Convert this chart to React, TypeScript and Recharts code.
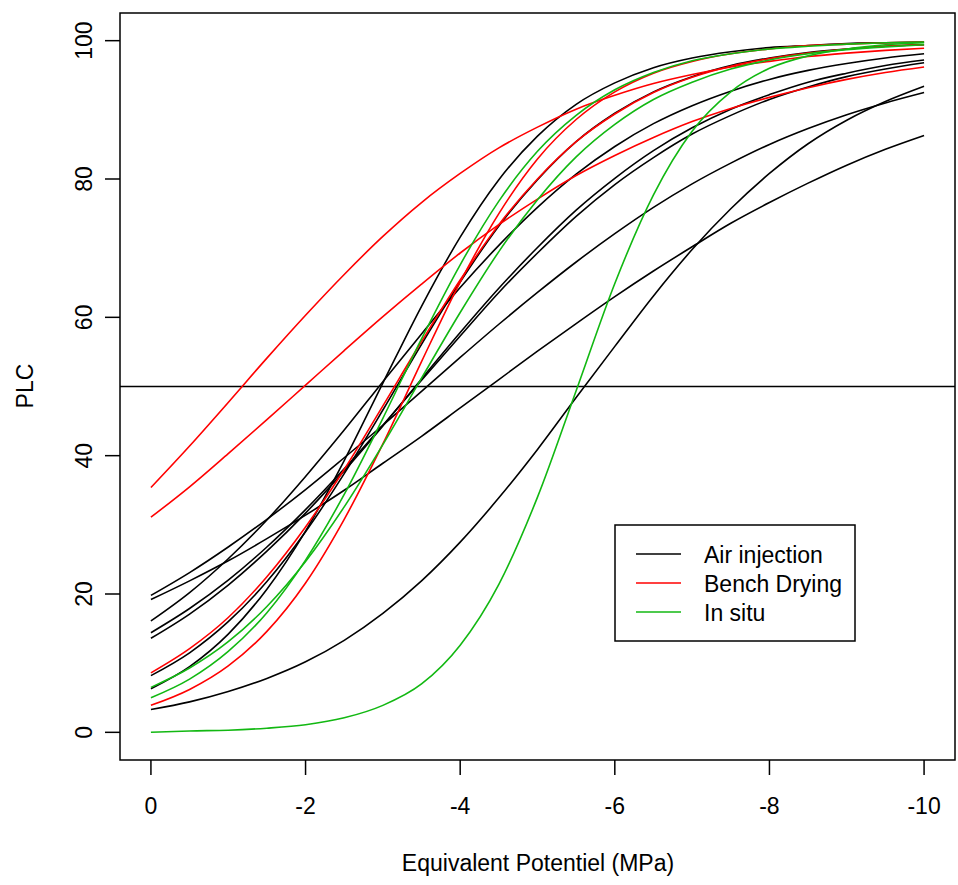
import React from 'react';
import {
  LineChart,
  Line,
  XAxis,
  YAxis,
  ReferenceLine,
  ReferenceArea,
  Legend,
  Label,
} from 'recharts';

// equivalent potential (MPa), every 0.5
const potential = [
  0, -0.5, -1, -1.5, -2, -2.5, -3, -3.5, -4, -4.5, -5, -5.5, -6, -6.5, -7, -7.5, -8, -8.5, -9, -9.5, -10,
];

// Air injection curves
const air1 = [19.8, 23.1, 26.8, 30.8, 35.1, 39.7, 44.4, 49.3, 54.2, 59.0, 63.6, 68.0, 72.1, 75.9, 79.3, 82.3, 85.0, 87.3, 89.3, 91.0, 92.5];
const air2 = [19.2, 21.9, 24.8, 28.0, 31.4, 35.0, 38.9, 42.8, 46.9, 51.0, 55.1, 59.1, 63.0, 66.7, 70.2, 73.6, 76.6, 79.4, 82.0, 84.3, 86.3];
const air3 = [16.1, 20.2, 25.1, 30.7, 37.0, 43.7, 50.7, 57.6, 64.3, 70.4, 75.9, 80.7, 84.7, 88.0, 90.6, 92.7, 94.4, 95.7, 96.7, 97.5, 98.1];
const air4 = [14.4, 17.9, 22.0, 26.8, 32.2, 38.1, 44.4, 50.9, 57.3, 63.6, 69.3, 74.6, 79.2, 83.1, 86.5, 89.2, 91.5, 93.3, 94.8, 95.9, 96.8];
const air5 = [13.6, 17.1, 21.3, 26.2, 31.7, 37.8, 44.3, 51.1, 57.8, 64.2, 70.1, 75.5, 80.1, 84.1, 87.4, 90.1, 92.2, 94.0, 95.3, 96.4, 97.2];
const air6 = [8.2, 11.5, 16.0, 21.8, 29.0, 37.4, 46.6, 56.1, 65.1, 73.2, 79.9, 85.4, 89.5, 92.6, 94.8, 96.4, 97.5, 98.3, 98.8, 99.2, 99.4];
const air7 = [6.3, 9.5, 14.2, 20.7, 29.1, 39.3, 50.5, 61.6, 71.6, 79.9, 86.2, 90.8, 93.9, 96.1, 97.5, 98.4, 99.0, 99.3, 99.6, 99.7, 99.8];
const air8 = [3.3, 4.4, 5.9, 7.8, 10.2, 13.3, 17.2, 21.9, 27.5, 33.9, 40.9, 48.4, 55.8, 63.1, 69.8, 75.7, 80.8, 85.1, 88.5, 91.2, 93.4];

// Bench drying curves
const bench1 = [35.4, 41.4, 47.7, 54.1, 60.3, 66.2, 71.7, 76.6, 80.8, 84.5, 87.5, 90.1, 92.1, 93.8, 95.1, 96.2, 97.0, 97.7, 98.2, 98.6, 98.9];
const bench2 = [31.1, 35.5, 40.3, 45.2, 50.2, 55.2, 60.1, 64.8, 69.3, 73.4, 77.1, 80.5, 83.4, 86.0, 88.3, 90.2, 91.8, 93.2, 94.4, 95.4, 96.2];
const bench3 = [8.6, 12.1, 16.6, 22.5, 29.7, 38.0, 47.2, 56.5, 65.4, 73.4, 80.0, 85.4, 89.4, 92.5, 94.7, 96.3, 97.4, 98.2, 98.8, 99.2, 99.4];
const bench4 = [3.9, 6.2, 9.6, 14.6, 21.6, 30.8, 41.7, 53.6, 65.1, 75.0, 82.9, 88.6, 92.6, 95.3, 97.0, 98.1, 98.8, 99.3, 99.5, 99.7, 99.8];

// In situ curves
const situ1 = [6.5, 9.3, 13.1, 18.2, 24.7, 32.6, 41.6, 51.2, 60.7, 69.5, 77.0, 83.2, 87.9, 91.5, 94.0, 95.9, 97.2, 98.1, 98.7, 99.1, 99.4];
const situ2 = [5.0, 7.7, 11.7, 17.3, 24.9, 34.4, 45.4, 56.9, 67.6, 76.8, 84.0, 89.2, 92.9, 95.4, 97.1, 98.1, 98.8, 99.2, 99.5, 99.7, 99.8];
const situ3 = [0.0, 0.2, 0.3, 0.6, 1.1, 2.1, 3.9, 7.0, 12.6, 21.4, 34.0, 49.4, 64.9, 77.7, 86.9, 92.6, 96.0, 97.8, 98.8, 99.4, 99.7];

const yTicks = [0, 20, 40, 60, 80, 100];
const xTicks = [0, -2, -4, -6, -8, -10];

const BLACK = '#000000';
const RED = '#ff0000';
const GREEN = '#12b812';
const FONT = '"Liberation Sans", Arial, sans-serif';

const series = [
  { key: 'air1', values: air1, color: BLACK },
  { key: 'air2', values: air2, color: BLACK },
  { key: 'air3', values: air3, color: BLACK },
  { key: 'air4', values: air4, color: BLACK },
  { key: 'air5', values: air5, color: BLACK },
  { key: 'air6', values: air6, color: BLACK },
  { key: 'air7', values: air7, color: BLACK },
  { key: 'air8', values: air8, color: BLACK },
  { key: 'bench1', values: bench1, color: RED },
  { key: 'bench2', values: bench2, color: RED },
  { key: 'bench3', values: bench3, color: RED },
  { key: 'bench4', values: bench4, color: RED },
  { key: 'situ1', values: situ1, color: GREEN },
  { key: 'situ2', values: situ2, color: GREEN },
  { key: 'situ3', values: situ3, color: GREEN },
];

const legendItems = [
  { label: 'Air injection', color: BLACK },
  { label: 'Bench Drying', color: RED },
  { label: 'In situ', color: GREEN },
];

const data = potential.map((x, i) => {
  const row: Record<string, number> = { x };
  series.forEach((s) => {
    row[s.key] = s.values[i];
  });
  return row;
});

const XTick = ({ x, payload }: any) => (
  <text x={x} y={814} textAnchor="middle" fontSize={23} fontFamily={FONT} fill="#000">
    {payload.value}
  </text>
);

const YTick = ({ y, payload }: any) => (
  <text
    x={92}
    y={y}
    transform={`rotate(-90, 92, ${y})`}
    textAnchor="middle"
    fontSize={23}
    fontFamily={FONT}
    fill="#000"
  >
    {payload.value}
  </text>
);

const renderLegend = () => (
  <svg width={243} height={119} style={{ display: 'block' }}>
    <rect x={1} y={1} width={240} height={116} fill="#fff" stroke="#000" strokeWidth={1.5} />
    {legendItems.map((item, i) => (
      <g key={item.label}>
        <line x1={22} x2={67} y1={30 + i * 29} y2={30 + i * 29} stroke={item.color} strokeWidth={1.6} />
        <text x={90} y={39 + i * 29} fontSize={23} fontFamily={FONT} fill="#000">
          {item.label}
        </text>
      </g>
    ))}
  </svg>
);

export default function App() {
  return (
    <div style={{ position: 'absolute', left: 0, top: 0, width: 958, height: 885, background: '#fff' }}>
      <LineChart width={958} height={885} data={data} margin={{ top: 13, right: 3, bottom: 65, left: 60 }}>
        <XAxis
          type="number"
          dataKey="x"
          domain={[-10.4, 0.4]}
          reversed
          ticks={xTicks}
          tick={<XTick />}
          tickSize={15}
          tickLine={{ stroke: '#000', strokeWidth: 1.5 }}
          axisLine={false}
          height={60}
        >
          <Label
            content={() => (
              <text x={538} y={871} textAnchor="middle" fontSize={23} fontFamily={FONT} fill="#000">
                Equivalent Potentiel (MPa)
              </text>
            )}
          />
        </XAxis>
        <YAxis
          type="number"
          domain={[-4, 104]}
          ticks={yTicks}
          tick={<YTick />}
          tickSize={15}
          tickLine={{ stroke: '#000', strokeWidth: 1.5 }}
          axisLine={false}
          width={60}
        >
          <Label
            content={() => (
              <text
                x={33}
                y={386}
                transform="rotate(-90, 33, 386)"
                textAnchor="middle"
                fontSize={23}
                fontFamily={FONT}
                fill="#000"
              >
                PLC
              </text>
            )}
          />
        </YAxis>
        <ReferenceArea x1={-10.4} x2={0.4} y1={-4} y2={104} fill="none" stroke="#000" strokeWidth={1.5} ifOverflow="visible" />
        <ReferenceLine y={50} stroke="#000" strokeWidth={1.5} />
        {series.map((s) => (
          <Line
            key={s.key}
            type="monotone"
            dataKey={s.key}
            stroke={s.color}
            strokeWidth={1.6}
            dot={false}
            activeDot={false}
            isAnimationActive={false}
          />
        ))}
        <Legend
          layout="vertical"
          align="center"
          verticalAlign="middle"
          content={renderLegend}
          wrapperStyle={{ position: 'absolute', left: 614, top: 524, width: 243, height: 119 }}
        />
      </LineChart>
    </div>
  );
}
